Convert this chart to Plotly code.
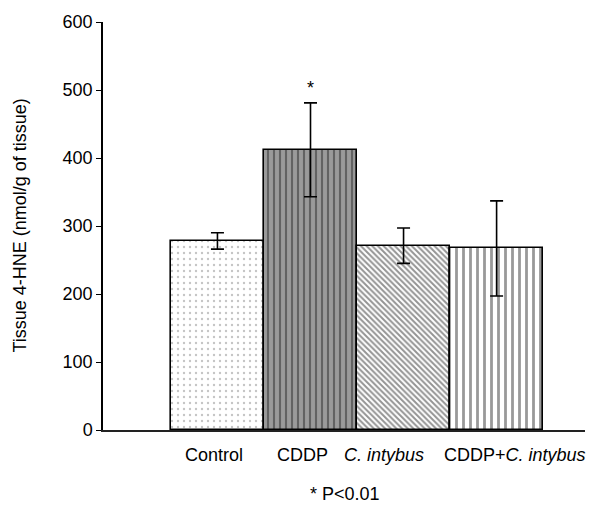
import plotly.graph_objects as go

categories = ["Control", "CDDP", "<i>C. intybus</i>", "CDDP+<i>C. intybus</i>"]
means = [278, 412, 271, 267]
errors = [12, 69, 26, 70]
significance = ["", "*", "", ""]
y_ticks = [0, 100, 200, 300, 400, 500, 600]

patterns = [
    dict(shape=".", fgcolor="#8a8a8a", bgcolor="white", size=6, solidity=0.12),
    dict(shape="|", fgcolor="#2a2a2a", bgcolor="#9a9a9a", size=6, solidity=0.35),
    dict(shape="\\", fgcolor="#2a2a2a", bgcolor="white", size=4, solidity=0.5),
    dict(shape="|", fgcolor="#333333", bgcolor="white", size=7, solidity=0.4),
]

xs = list(range(len(categories)))
fig = go.Figure()
for i, (c, m, e) in enumerate(zip(categories, means, errors)):
    fig.add_trace(go.Bar(
        x=[xs[i]], y=[m], width=1.0,
        marker=dict(color="white", pattern=patterns[i],
                    line=dict(color="black", width=1.6)),
        error_y=dict(type="data", array=[e], color="black", thickness=1.6, width=6.5),
        showlegend=False,
    ))

label_offsets = [-0.04, -0.09, -0.21, 0.2]
annotations = []
for i, c in enumerate(categories):
    annotations.append(dict(x=xs[i] + label_offsets[i], y=-0.061, xref="x", yref="paper",
                            xanchor="center", yanchor="middle",
                            text=c, showarrow=False, font=dict(size=18, color="black")))
for i, s in enumerate(significance):
    if s:
        annotations.append(dict(x=xs[i], y=means[i] + errors[i], xref="x", yref="y",
                                xanchor="center", yanchor="bottom", yshift=3,
                                text=s, showarrow=False,
                                font=dict(size=18, color="black")))
annotations.append(dict(x=0.502, y=-0.157, xref="paper", yref="paper", text="* P<0.01",
                        xanchor="center", yanchor="middle",
                        showarrow=False, font=dict(size=18, color="black")))
annotations.append(dict(x=-0.173, y=0.5, xref="paper", yref="paper",
                        xanchor="center", yanchor="middle",
                        text="Tissue 4-HNE (nmol/g of tissue)", textangle=-90,
                        showarrow=False, font=dict(size=18, color="black")))

fig.update_layout(
    width=605, height=506,
    margin=dict(l=103, r=20, t=19, b=76),
    paper_bgcolor="white", plot_bgcolor="white",
    font=dict(family="Liberation Sans, Arial, sans-serif", size=18, color="black"),
    bargap=0,
    annotations=annotations,
    xaxis=dict(range=[-1.23, 3.95], showticklabels=False, ticks="", showgrid=False,
               zeroline=False, showline=True, linecolor="#222", linewidth=2),
    yaxis=dict(range=[0, 600], tickvals=y_ticks, ticks="outside", ticklen=5,
               tickcolor="black", showgrid=False, zeroline=False, showline=True,
               linecolor="black", linewidth=1.5, tickfont=dict(size=18)),
)
fig.write_html("out.html")
